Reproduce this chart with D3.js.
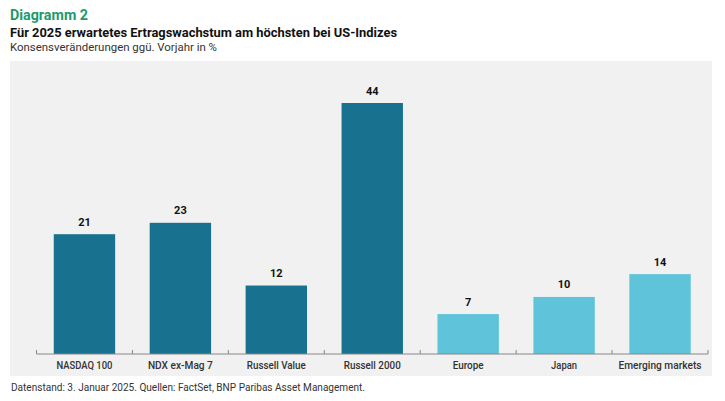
<!DOCTYPE html>
<html>
<head>
<meta charset="utf-8">
<script src="https://cdn.jsdelivr.net/npm/d3@7"></script>
<style>
  body { margin: 0; background: #fff; }
  text { font-family: "Roboto", "Liberation Sans", sans-serif; }
</style>
</head>
<body>
<svg id="chart" width="725" height="401"></svg>
<script>
const categories = ["NASDAQ 100", "NDX ex-Mag 7", "Russell Value", "Russell 2000", "Europe", "Japan", "Emerging markets"];
const values = [21, 23, 12, 44, 7, 10, 14];
const groups = ["us", "us", "us", "us", "other", "other", "other"];

// the original uses a condensed house font; squeeze our text to the same widths
const labelWidths = [56, 65, 59, 57, 31, 26, 83];

const data = categories.map((c, i) => ({ name: c, value: values[i], group: groups[i], w: labelWidths[i] }));

const svg = d3.select("#chart");
const margin = { left: 36.5, right: 17, top: 103, bottom: 47 };
const width = +svg.attr("width");
const height = +svg.attr("height");
const baseY = height - margin.bottom;

function squeeze(sel, w) {
  sel.attr("textLength", w).attr("lengthAdjust", "spacingAndGlyphs");
}

// panel background
svg.append("rect")
  .attr("x", 10).attr("y", 61)
  .attr("width", 702).attr("height", 315)
  .attr("fill", "#f1f1f1");

// headings
svg.append("text").attr("x", 10).attr("y", 20)
  .attr("font-size", 14).attr("font-weight", "bold").attr("fill", "#1d9a6c")
  .text("Diagramm 2").call(squeeze, 78);
svg.append("text").attr("x", 10).attr("y", 36.5)
  .attr("font-size", 13.5).attr("font-weight", "bold").attr("fill", "#111")
  .text("Für 2025 erwartetes Ertragswachstum am höchsten bei US-Indizes").call(squeeze, 387);
svg.append("text").attr("x", 10).attr("y", 51)
  .attr("font-size", 11.5).attr("fill", "#333")
  .text("Konsensveränderungen ggü. Vorjahr in %").call(squeeze, 207);

const x = d3.scaleBand()
  .domain(categories)
  .range([margin.left, width - margin.right])
  .paddingInner(0.36)
  .paddingOuter(0.18);

const y = d3.scaleLinear()
  .domain([0, 44])
  .range([baseY, margin.top]);

const color = d3.scaleOrdinal()
  .domain(["us", "other"])
  .range(["#17718f", "#5fc3d9"]);

svg.selectAll("rect.bar")
  .data(data)
  .enter()
  .append("rect")
  .attr("class", "bar")
  .attr("x", d => x(d.name))
  .attr("y", d => y(d.value))
  .attr("width", x.bandwidth())
  .attr("height", d => baseY - y(d.value))
  .attr("fill", d => color(d.group));

svg.selectAll("text.val")
  .data(data)
  .enter()
  .append("text")
  .attr("class", "val")
  .attr("x", d => x(d.name) + x.bandwidth() / 2)
  .attr("y", d => y(d.value) - 8.5)
  .attr("text-anchor", "middle")
  .attr("font-size", 11)
  .attr("font-weight", "bold")
  .attr("fill", "#111")
  .text(d => d.value);

// axis with ticks at band boundaries
const axisG = svg.append("g").attr("transform", `translate(0,${baseY})`);
const step = x.step();
const start = x(categories[0]) - x.paddingOuter() * step;
axisG.append("line")
  .attr("x1", start).attr("x2", start + step * categories.length)
  .attr("stroke", "#888").attr("stroke-width", 1);
axisG.selectAll("line.tick")
  .data(d3.range(categories.length + 1))
  .enter()
  .append("line")
  .attr("class", "tick")
  .attr("x1", i => start + i * step).attr("x2", i => start + i * step)
  .attr("y1", -4).attr("y2", 0)
  .attr("stroke", "#888");
axisG.selectAll("text")
  .data(data)
  .enter()
  .append("text")
  .attr("x", d => x(d.name) + x.bandwidth() / 2)
  .attr("y", 15)
  .attr("text-anchor", "middle")
  .attr("font-size", 11)
  .attr("font-weight", 500)
  .attr("fill", "#333")
  .text(d => d.name)
  .each(function (d) { d3.select(this).call(squeeze, d.w); });

svg.append("text").attr("x", 11).attr("y", 391)
  .attr("font-size", 11).attr("fill", "#333")
  .text("Datenstand: 3. Januar 2025.  Quellen: FactSet, BNP Paribas Asset Management.").call(squeeze, 354);
</script>
</body>
</html>
